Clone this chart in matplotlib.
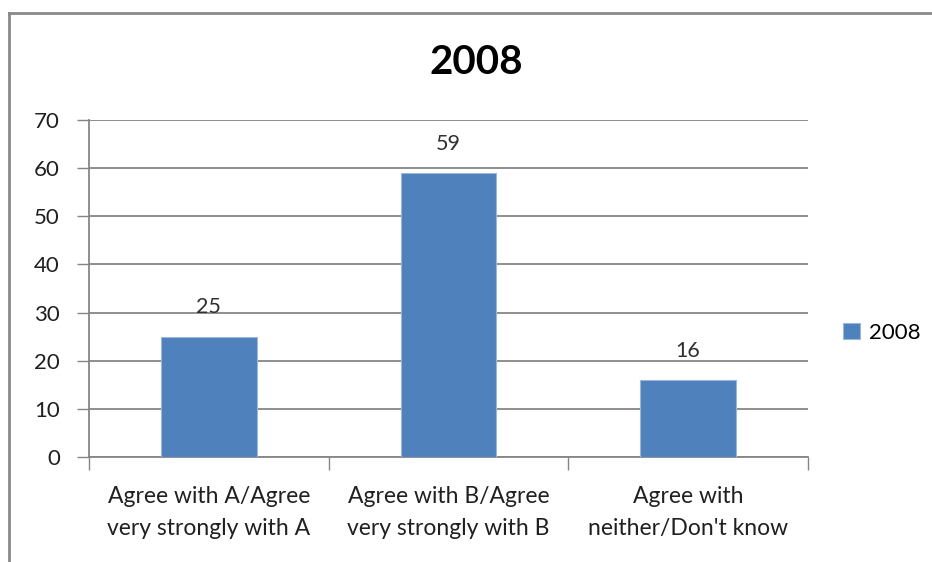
import matplotlib.pyplot as plt
from matplotlib.lines import Line2D

categories = ["Agree with A/Agree\nvery strongly with A",
              "Agree with B/Agree\nvery strongly with B",
              "Agree with\nneither/Don't know"]
values_2008 = [25, 59, 16]
y_ticks = [0, 10, 20, 30, 40, 50, 60, 70]
series_name = "2008"
title = "2008"

plt.rcParams['font.family'] = ['Lato', 'DejaVu Sans']

W, H = 932, 562
fig = plt.figure(figsize=(W / 100, H / 100), dpi=100)
ax = fig.add_axes([89 / W, 1 - 457 / H, (808 - 89) / W, (457 - 120) / H])

grid_c = '#868686'
bar_c = '#4F81BD'

xs = list(range(len(categories)))
bars = ax.bar(xs, values_2008, width=0.4, color=bar_c, edgecolor='#9DB7D8',
              linewidth=0.8, label=series_name, zorder=3)

for x, v in zip(xs, values_2008):
    ax.annotate(str(v), (x, v), xytext=(0, 14), textcoords='offset points',
                ha='center', va='bottom', fontsize=15.5, color='#303030')

ax.set_xlim(-0.5, len(categories) - 0.5)
ax.set_ylim(0, 70)
ax.set_yticks(y_ticks)
ax.set_yticklabels([str(t) for t in y_ticks])
ax.yaxis.grid(True, color=grid_c, linewidth=1.3, zorder=0)
ax.set_axisbelow(True)

ax.set_xticks(xs)
ax.set_xticklabels(categories, fontsize=16.5, linespacing=1.65, color='#202020')
ax.set_xticks([x - 0.5 for x in xs] + [len(xs) - 0.5], minor=True)
ax.tick_params(axis='x', which='major', length=0, pad=21)
ax.tick_params(axis='x', which='minor', length=9, width=1, color=grid_c, direction='out')
ax.tick_params(axis='y', length=9, width=1, color=grid_c, direction='out',
               labelsize=16, labelcolor='#202020', pad=12)

for s in ['top', 'right']:
    ax.spines[s].set_visible(False)
for s in ['left', 'bottom']:
    ax.spines[s].set_color(grid_c)
    ax.spines[s].set_linewidth(1.3)

fig.text(476 / W, 1 - 62 / H, title, ha='center', va='center',
         fontsize=29, fontweight='bold', color='black')

fig.legend(handles=[bars], labels=[series_name], loc='center left',
           bbox_to_anchor=(843 / W, 1 - 333 / H), frameon=False,
           handlelength=0.75, handleheight=0.75, handletextpad=0.4,
           borderpad=0, borderaxespad=0, fontsize=16)

# outer chart frame (partly cropped)
fig.add_artist(Line2D([9 / W, 9 / W], [0, 1 - 13 / H], transform=fig.transFigure,
                      color='#8a8a8a', linewidth=2))
fig.add_artist(Line2D([9 / W, 1], [1 - 13 / H, 1 - 13 / H], transform=fig.transFigure,
                      color='#8a8a8a', linewidth=2))

fig.savefig('out.png', dpi=100)
